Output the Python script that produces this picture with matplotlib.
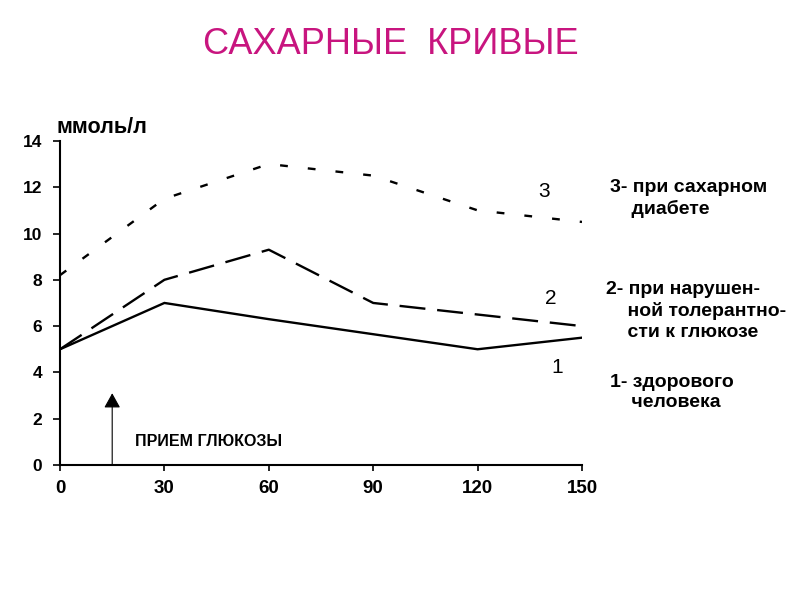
import matplotlib
matplotlib.use("Agg")
import matplotlib.pyplot as plt

plt.rcParams['font.family'] = ['Liberation Sans', 'DejaVu Sans']

# время, мин
minutes = [0, 30, 60, 90, 120, 150]
# сахар крови, ммоль/л
healthy = [5.0, 7.0, 6.3, 5.65, 5.0, 5.5]
impaired = [5.0, 8.0, 9.3, 7.0, 6.5, 6.0]
diabetes = [8.2, 11.5, 13.0, 12.5, 11.0, 10.5]

x_ticks = [0, 30, 60, 90, 120, 150]
y_ticks = [0, 2, 4, 6, 8, 10, 12, 14]

legend_texts = ["3- при сахарном\n    диабете",
                "2- при нарушен-\n    ной толерантно-\n    сти к глюкозе",
                "1- здорового\n    человека"]

fig = plt.figure(figsize=(8, 5.92), dpi=100)
ax = fig.add_axes([0.075, 0.2145, 0.6525, 0.5475])

ax.plot(minutes, healthy, color="black", lw=1.7, solid_joinstyle="miter")
ax.plot(minutes, impaired, color="black", lw=1.7, dashes=(11, 5))
ax.plot(minutes, diabetes, color="black", lw=1.7, dashes=(3.3, 8.5))

ax.set_xlim(0, 150)
ax.set_ylim(0, 14)
ax.set_xticks(x_ticks)
ax.set_yticks(y_ticks)
for s in ["top", "right"]:
    ax.spines[s].set_visible(False)
ax.spines["left"].set_linewidth(1.5)
ax.spines["bottom"].set_linewidth(1.5)
ax.tick_params(axis="y", direction="out", length=5, width=1.2, labelsize=12.5, pad=8)
ax.tick_params(axis="x", direction="out", length=4, width=1.2, labelsize=13.5, pad=7)
for lab in ax.get_xticklabels() + ax.get_yticklabels():
    lab.set_fontweight("bold")

# стрелка - прием глюкозы
ax.annotate("", xy=(15, 3.1), xytext=(15, 0),
            arrowprops=dict(arrowstyle="-|>,head_length=0.45,head_width=0.25",
                            mutation_scale=20, color="#444444", lw=0.8,
                            shrinkA=0, shrinkB=0, fc="black", ec="black"))
ax.text(21.5, 1.0, "ПРИЕМ ГЛЮКОЗЫ", fontsize=11.5, fontweight="bold", va="center")

ax.text(139, 11.8, "3", fontsize=15, ha="center", va="center")
ax.text(141, 7.2, "2", fontsize=15, ha="center", va="center")
ax.text(143, 4.2, "1", fontsize=15, ha="center", va="center")

fig.text(0.07, 0.785, "ммоль/л", fontsize=15.5, fontweight="bold", va="center")

fig.text(0.488, 0.924, "САХАРНЫЕ  КРИВЫЕ", fontsize=26, color="#c8157f",
         ha="center", va="center")

fig.text(0.762, 0.698, legend_texts[0], fontsize=14, fontweight="bold",
         va="top", linespacing=1.3)
fig.text(0.758, 0.525, legend_texts[1], fontsize=14, fontweight="bold",
         va="top", linespacing=1.3)
fig.text(0.762, 0.369, legend_texts[2], fontsize=14, fontweight="bold",
         va="top", linespacing=1.3)

fig.savefig("out.png", dpi=100)
